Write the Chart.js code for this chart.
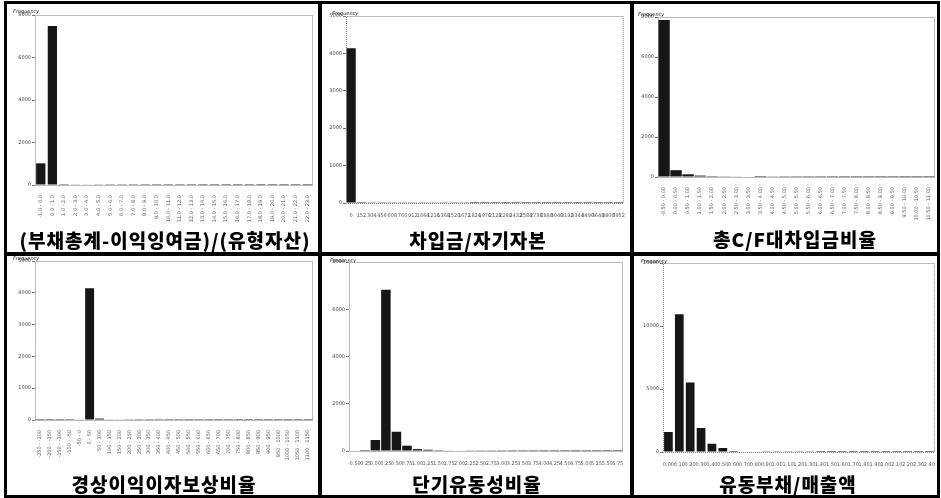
<!DOCTYPE html>
<html>
<head>
<meta charset="utf-8">
<script src="https://cdn.jsdelivr.net/npm/chart.js@4.4.0/dist/chart.umd.min.js"></script>
<style>
body{margin:0;background:#fff;width:941px;height:498px;position:relative;overflow:hidden;font-family:"Noto Sans CJK KR",sans-serif}
.line{position:absolute;background:#000}
.frame{position:absolute;border:3px solid #000;box-sizing:border-box}
.cv{position:absolute}
.ttl{position:absolute;width:320px;height:24px;line-height:24px;font-weight:900;font-size:19px;letter-spacing:1px;text-align:center;white-space:nowrap;color:#000}
.freq{position:absolute;font-size:5px;color:#222;font-family:"DejaVu Sans",sans-serif;font-style:italic}
</style>
</head>
<body>
<div class="frame" style="left:4px;top:1px;width:936px;height:497px"></div>
<div class="line" style="left:318px;top:1px;width:4px;height:497px"></div>
<div class="line" style="left:630px;top:1px;width:4px;height:497px"></div>
<div class="line" style="left:4px;top:252px;width:936px;height:4px"></div>
<div id="root"></div>
<script>
// chart titles
var titles = ["(부채총계-이익잉여금)/(유형자산)", "차입금/자기자본", "총C/F대차입금비율",
              "경상이익이자보상비율", "단기유동성비율", "유동부채/매출액"];

// (부채총계-이익잉여금)/(유형자산)
var labels1 = ["-1.0 - 0.0","0.0 - 1.0","1.0 - 2.0","2.0 - 3.0","3.0 - 4.0","4.0 - 5.0","5.0 - 6.0","6.0 - 7.0",
               "7.0 - 8.0","8.0 - 9.0","9.0 - 10.0","10.0 - 11.0","11.0 - 12.0","12.0 - 13.0","13.0 - 14.0","14.0 - 15.0",
               "15.0 - 16.0","16.0 - 17.0","17.0 - 18.0","18.0 - 19.0","19.0 - 20.0","20.0 - 21.0","21.0 - 22.0","22.0 - 23.0"];
var values1 = [1020, 7480, 40, 30, 20, 15, 10, 10, 8, 6, 5, 5, 4, 4, 3, 3, 2, 2, 2, 1, 1, 1, 1, 1];
var yTicks1 = [0, 2000, 4000, 6000, 8000];

// 차입금/자기자본
var labels2 = ["0","152","304","456","608","760","912","1064","1216","1368","1520","1672","1824","1976",
               "2128","2280","2432","2584","2736","2888","3040","3192","3344","3496","3648","3800","3952"];
var values2 = [4140, 30, 22, 18, 20, 10, 8, 6, 5, 5, 4, 4, 3, 3, 3, 2, 2, 2, 2, 1, 1, 1, 1, 1, 1, 1, 1];
var yTicks2 = [0, 1000, 2000, 3000, 4000, 5000];

// 총C/F대차입금비율
var labels3 = ["-0.50 - 0.00","0.00 - 0.50","0.50 - 1.00","1.00 - 1.50","1.50 - 2.00","2.00 - 2.50","2.50 - 3.00",
               "3.00 - 3.50","3.50 - 4.00","4.00 - 4.50","4.50 - 5.00","5.00 - 5.50","5.50 - 6.00","6.00 - 6.50",
               "6.50 - 7.00","7.00 - 7.50","7.50 - 8.00","8.00 - 8.50","8.50 - 9.00","9.00 - 9.50","9.50 - 10.00",
               "10.00 - 10.50","10.50 - 11.00"];
var values3 = [7850, 340, 135, 70, 45, 35, 30, 25, 50, 15, 10, 8, 6, 5, 4, 4, 3, 3, 2, 2, 2, 1, 1];
var yTicks3 = [0, 2000, 4000, 6000, 8000];

// 경상이익이자보상비율
var labels4 = ["-250 - -200","-200 - -150","-150 - -100","-100 - -50","-50 - 0","0 - 50","50 - 100","100 - 150",
               "150 - 200","200 - 250","250 - 300","300 - 350","350 - 400","400 - 450","450 - 500","500 - 550",
               "550 - 600","600 - 650","650 - 700","700 - 750","750 - 800","800 - 850","850 - 900","900 - 950",
               "950 - 1000","1000 - 1050","1050 - 1100","1100 - 1150"];
var values4 = [1, 1, 2, 3, 12, 4140, 45, 20, 12, 8, 6, 5, 4, 3, 3, 2, 2, 2, 1, 1, 1, 1, 1, 1, 1, 1, 1, 1];
var yTicks4 = [0, 1000, 2000, 3000, 4000, 5000];

// 단기유동성비율
var labels5 = ["-0.50","-0.25","0.00","0.25","0.50","0.75","1.00","1.25","1.50","1.75","2.00","2.25","2.50",
               "2.75","3.00","3.25","3.50","3.75","4.00","4.25","4.50","4.75","5.00","5.25","5.50","5.75"];
var values5 = [0, 2, 465, 6825, 815, 225, 80, 55, 35, 25, 20, 15, 12, 10, 8, 6, 5, 4, 3, 3, 2, 2, 2, 1, 1, 1];
var yTicks5 = [0, 2000, 4000, 6000, 8000];

// 유동부채/매출액
var labels6 = ["0.00","0.10","0.20","0.30","0.40","0.50","0.60","0.70","0.80","0.90","1.00","1.10","1.20",
               "1.30","1.40","1.50","1.60","1.70","1.80","1.90","2.00","2.10","2.20","2.30","2.40"];
var values6 = [1590, 10935, 5520, 1905, 660, 315, 75, 40, 30, 25, 20, 15, 12, 10, 8, 6, 5, 4, 4, 3, 3, 2, 2, 2, 1];
var yTicks6 = [0, 5000, 10000, 15000];

var allLabels = [labels1, labels2, labels3, labels4, labels5, labels6];
var allValues = [values1, values2, values3, values4, values5, values6];
var allTicks = [yTicks1, yTicks2, yTicks3, yTicks4, yTicks5, yTicks6];

// layout of each panel: canvas box, axis sizes, title centre, Frequency label spot
var panels = [
  {x:8,   y:4,   w:310, h:230, yW:27, xH:49, padT:11, padR:5, rot:90, bp:0.8,  tx:165, ty:240, fx:13,  fy:8},
  {x:324, y:4,   w:303, h:230, yW:22, xH:31, padT:12, padR:2, rot:0,  bp:0.9,  tx:478, ty:240, fx:332, fy:10},
  {x:636, y:4,   w:301, h:230, yW:22, xH:57, padT:13, padR:2, rot:90, bp:0.95, tx:795, ty:239, fx:638, fy:11},
  {x:8,   y:257, w:310, h:214, yW:27, xH:51, padT:4,  padR:5, rot:90, bp:0.9,  tx:164, ty:484, fx:13,  fy:255},
  {x:324, y:257, w:303, h:214, yW:25, xH:20, padT:5,  padR:4, rot:0,  bp:0.9,  tx:477, ty:484, fx:330, fy:257},
  {x:636, y:257, w:301, h:214, yW:27, xH:19, padT:6,  padR:2, rot:0,  bp:0.8,  tx:788, ty:484, fx:641, fy:258}
];

// dotted box round the plot area
var dottedBox = {
  id: 'dottedBox',
  afterDraw: function(chart){
    var a = chart.chartArea, c = chart.ctx;
    c.save();
    c.strokeStyle = '#777';
    c.lineWidth = 1;
    c.setLineDash([1, 1]);
    c.strokeRect(a.left + 0.5, a.top + 0.5, a.right - a.left - 1, a.bottom - a.top);
    c.restore();
  }
};

var root = document.getElementById('root');
for (var i = 0; i < panels.length; i++){
  var p = panels[i];
  var cv = document.createElement('canvas');
  cv.className = 'cv';
  cv.width = p.w; cv.height = p.h;
  cv.style.left = p.x + 'px'; cv.style.top = p.y + 'px';
  root.appendChild(cv);

  var fq = document.createElement('div');
  fq.className = 'freq';
  fq.style.left = p.fx + 'px'; fq.style.top = p.fy + 'px';
  fq.textContent = 'Frequency';
  root.appendChild(fq);

  var t = document.createElement('div');
  t.className = 'ttl';
  t.style.left = (p.tx - 160) + 'px'; t.style.top = (p.ty - 12) + 'px';
  t.textContent = titles[i];
  root.appendChild(t);

  makeChart(cv, p, allLabels[i], allValues[i], allTicks[i]);
}

function makeChart(cv, p, labels, values, ticks){
  var yMax = ticks[ticks.length - 1];
  new Chart(cv, {
    type: 'bar',
    data: {
      labels: labels,
      datasets: [{
        data: values,
        backgroundColor: '#161616',
        borderWidth: 0,
        barPercentage: p.bp,
        categoryPercentage: 1
      }]
    },
    options: {
      responsive: false,
      animation: false,
      events: [],
      plugins: {legend: {display: false}, tooltip: {enabled: false}},
      layout: {padding: {left: 0, right: p.padR, top: p.padT, bottom: 0}},
      scales: {
        x: {
          grid: {display: false},
          border: {display: false},
          ticks: {autoSkip: false, maxRotation: p.rot, minRotation: p.rot, padding: 2,
                  font: {size: 5, family: 'DejaVu Sans'}, color: '#555'},
          afterFit: function(s){ s.height = p.xH; }
        },
        y: {
          min: 0, max: yMax,
          grid: {drawOnChartArea: false, tickLength: 3, color: '#777'},
          border: {display: false},
          afterBuildTicks: function(s){ s.ticks = ticks.map(function(v){ return {value: v}; }); },
          ticks: {font: {size: 5, family: 'DejaVu Sans'}, color: '#444', padding: 1,
                  callback: function(v){ return String(v); }},
          afterFit: function(s){ s.width = p.yW; }
        }
      }
    },
    plugins: [dottedBox]
  });
}
</script>
</body>
</html>
